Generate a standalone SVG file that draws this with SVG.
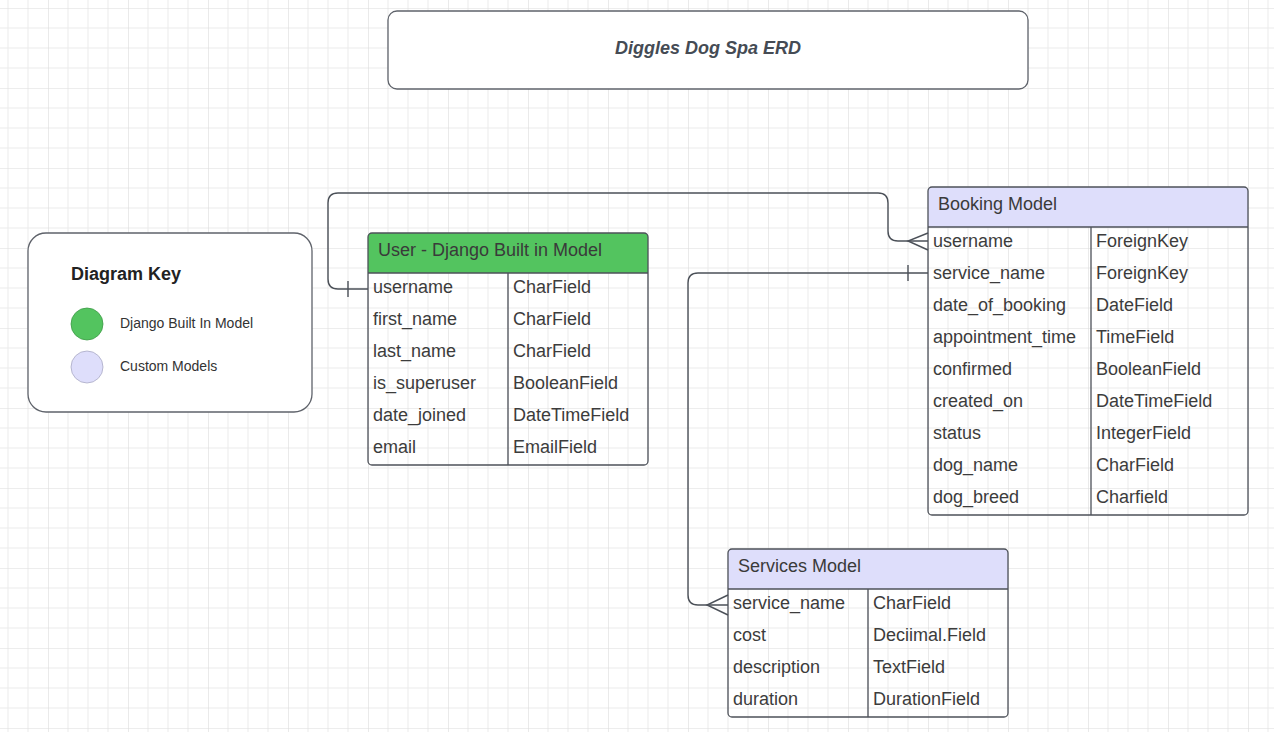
<svg xmlns="http://www.w3.org/2000/svg" width="1274" height="732" viewBox="0 0 1274 732">
<defs>
<pattern id="grid" patternUnits="userSpaceOnUse" x="48" y="8" width="80" height="80">
<path d="M20,0V80M40,0V80M60,0V80M0,20H80M0,40H80M0,60H80" stroke="#ebebeb" stroke-width="1" fill="none"/>
<path d="M0,0V80M0,0H80" stroke="#dcdcdc" stroke-width="1.2" fill="none"/>
</pattern>
<style>
.box{fill:#ffffff;stroke:#5f636b;stroke-width:1.3}
.tbl{fill:#ffffff;stroke:#4d5159;stroke-width:1.3}
.hdrG{fill:#53c45f}
.hdrP{fill:#dedefb}
.sep{stroke:#4d5159;stroke-width:1.3;fill:none}
.t{font-family:"Liberation Sans",Arial,sans-serif;font-size:18px;fill:#3c3c3c}
.h{font-family:"Liberation Sans",Arial,sans-serif;font-size:18px;fill:#3a3a3a}
.k{font-family:"Liberation Sans",Arial,sans-serif;font-size:14px;fill:#333333}
.conn{fill:none;stroke:#4b5058;stroke-width:1.4}
</style>
</defs>
<rect width="1274" height="732" fill="#ffffff"/>
<rect width="1274" height="732" fill="url(#grid)"/>

<g id="title">
<rect class="box" x="388" y="11" width="640" height="78" rx="9"/>
<text x="708" y="54" text-anchor="middle" font-family="'Liberation Sans',Arial,sans-serif" font-size="18" font-weight="bold" font-style="italic" fill="#454b54">Diggles Dog Spa ERD</text>
</g>

<g id="key">
<rect class="box" x="28" y="233" width="284" height="179" rx="18"/>
<text x="71" y="280" font-family="'Liberation Sans',Arial,sans-serif" font-size="18" font-weight="bold" fill="#222">Diagram Key</text>
<circle cx="87" cy="324" r="16" fill="#53c45f" stroke="#3f9a48" stroke-width="0.8"/>
<circle cx="87" cy="367" r="16" fill="#dedefb" stroke="#a9a9c4" stroke-width="0.8"/>
<text class="k" x="120" y="328">Django Built In Model</text>
<text class="k" x="120" y="371">Custom Models</text>
</g>

<g id="connectors">
<path class="conn" d="M368,289 H338 Q328,289 328,279 V203 Q328,193 338,193 H878 Q888,193 888,203 V231 Q888,241 898,241 H928"/>
<path class="conn" d="M348,281 V297"/>
<path class="conn" d="M928,233 L908,241 L928,250"/>
<path class="conn" d="M928,273 H698 Q688,273 688,283 V595 Q688,605 698,605 H728"/>
<path class="conn" d="M908,265 V281"/>
<path class="conn" d="M728,595 L707,605 L728,615"/>
</g>

<g id="user">
<path class="hdrG" d="M368,273 V237 Q368,233 372,233 H644 Q648,233 648,237 V273 Z"/>
<rect class="tbl" x="368" y="233" width="280" height="232" rx="4" fill="none" style="fill:none"/>
<path class="sep" d="M368,273 H648 M508,273 V465"/>
<text class="h" x="378" y="256">User - Django Built in Model</text>
<text class="t" x="373" y="293">username</text><text class="t" x="513" y="293">CharField</text>
<text class="t" x="373" y="325">first_name</text><text class="t" x="513" y="325">CharField</text>
<text class="t" x="373" y="357">last_name</text><text class="t" x="513" y="357">CharField</text>
<text class="t" x="373" y="389">is_superuser</text><text class="t" x="513" y="389">BooleanField</text>
<text class="t" x="373" y="421">date_joined</text><text class="t" x="513" y="421">DateTimeField</text>
<text class="t" x="373" y="453">email</text><text class="t" x="513" y="453">EmailField</text>
</g>

<g id="booking">
<path class="hdrP" d="M928,227 V191 Q928,187 932,187 H1244 Q1248,187 1248,191 V227 Z"/>
<rect class="tbl" x="928" y="187" width="320" height="328" rx="4" style="fill:none"/>
<path class="sep" d="M928,227 H1248 M1091,227 V515"/>
<text class="h" x="938" y="210">Booking Model</text>
<text class="t" x="933" y="247">username</text><text class="t" x="1096" y="247">ForeignKey</text>
<text class="t" x="933" y="279">service_name</text><text class="t" x="1096" y="279">ForeignKey</text>
<text class="t" x="933" y="311">date_of_booking</text><text class="t" x="1096" y="311">DateField</text>
<text class="t" x="933" y="343">appointment_time</text><text class="t" x="1096" y="343">TimeField</text>
<text class="t" x="933" y="375">confirmed</text><text class="t" x="1096" y="375">BooleanField</text>
<text class="t" x="933" y="407">created_on</text><text class="t" x="1096" y="407">DateTimeField</text>
<text class="t" x="933" y="439">status</text><text class="t" x="1096" y="439">IntegerField</text>
<text class="t" x="933" y="471">dog_name</text><text class="t" x="1096" y="471">CharField</text>
<text class="t" x="933" y="503">dog_breed</text><text class="t" x="1096" y="503">Charfield</text>
</g>

<g id="services">
<path class="hdrP" d="M728,589 V553 Q728,549 732,549 H1004 Q1008,549 1008,553 V589 Z"/>
<rect class="tbl" x="728" y="549" width="280" height="168" rx="4" style="fill:none"/>
<path class="sep" d="M728,589 H1008 M868,589 V717"/>
<text class="h" x="738" y="572">Services Model</text>
<text class="t" x="733" y="609">service_name</text><text class="t" x="873" y="609">CharField</text>
<text class="t" x="733" y="641">cost</text><text class="t" x="873" y="641">Deciimal.Field</text>
<text class="t" x="733" y="673">description</text><text class="t" x="873" y="673">TextField</text>
<text class="t" x="733" y="705">duration</text><text class="t" x="873" y="705">DurationField</text>
</g>
</svg>
